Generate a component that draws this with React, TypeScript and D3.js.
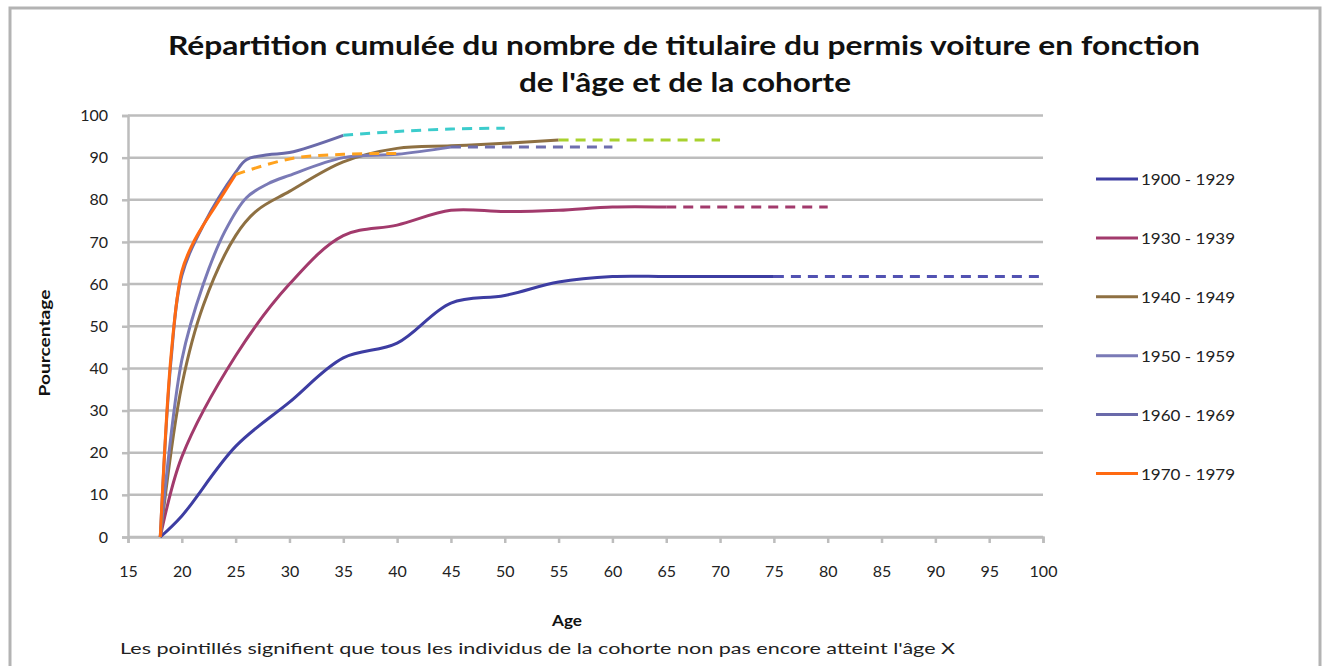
import React, { useEffect, useRef } from "react";
import * as d3 from "d3";

type Pt = [number, number];

const cohortLabels = ["1900 - 1929", "1930 - 1939", "1940 - 1949", "1950 - 1959", "1960 - 1969", "1970 - 1979"];
const lineColors = ["#3d3da2", "#a23a6c", "#8e7042", "#7a7ab6", "#6a6aaa", "#ff6a12"];
const dashColors = ["#5252b2", "#a23a6c", "#a8d12e", "#6e6eae", "#3ccccc", "#ffa21e"];

// solid = every individual of the cohort reached that age
const solid1900: Pt[] = [[18, 0], [20, 5], [25, 21.5], [30, 32], [35, 42.5], [40, 46], [45, 55.5], [50, 57.3], [55, 60.5], [60, 61.8], [65, 61.8], [70, 61.8], [75, 61.8]];
const solid1930: Pt[] = [[18, 0], [20, 19], [25, 43], [30, 60], [35, 71.5], [40, 74], [45, 77.5], [50, 77.2], [55, 77.5], [60, 78.3], [65, 78.3]];
const solid1940: Pt[] = [[18, 0], [20, 36], [22, 55], [25, 71.5], [27, 77.5], [30, 82], [35, 89], [40, 92.2], [45, 92.8], [50, 93.4], [55, 94.2]];
const solid1950: Pt[] = [[18, 0], [20, 42], [22, 60], [24, 72.5], [26, 80.5], [28, 83.8], [30, 85.8], [35, 90], [40, 90.8], [45, 92.5]];
const solid1960: Pt[] = [[18, 0], [19, 42], [20, 62], [22, 74], [25, 86.5], [26, 89.5], [28, 90.7], [30, 91.2], [35, 95.3]];
const solid1970: Pt[] = [[18, 0], [19, 43], [20, 63], [21, 69.5], [22, 74], [23, 78], [24, 82], [25, 86]];

// dashed = not every individual reached that age yet
const dashed1900: Pt[] = [[75, 61.8], [100, 61.8]];
const dashed1930: Pt[] = [[65, 78.3], [80, 78.3]];
const dashed1940: Pt[] = [[55, 94.2], [70, 94.2]];
const dashed1950: Pt[] = [[45, 92.5], [60, 92.5]];
const dashed1960: Pt[] = [[35, 95.3], [40, 96.2], [45, 96.8], [50, 97]];
const dashed1970: Pt[] = [[25, 86], [30, 89.7], [35, 90.8], [40, 91]];

const xTicks = [15, 20, 25, 30, 35, 40, 45, 50, 55, 60, 65, 70, 75, 80, 85, 90, 95, 100];
const yTicks = [0, 10, 20, 30, 40, 50, 60, 70, 80, 90, 100];

const solidSeries = [solid1900, solid1930, solid1940, solid1950, solid1960, solid1970];
const dashedSeries = [dashed1900, dashed1930, dashed1940, dashed1950, dashed1960, dashed1970];

const W = 1327;
const H = 666;
const FONT = "Lato, 'Open Sans', sans-serif";

const App = () => {
  const ref = useRef<SVGSVGElement>(null);

  useEffect(() => {
    const svg = d3.select(ref.current);
    svg.selectAll("*").remove();

    const x = d3.scaleLinear().domain([15, 100]).range([128, 1043]);
    const y = d3.scaleLinear().domain([0, 100]).range([537, 115.5]);

    // outer frame
    svg.append("rect")
      .attr("x", 10).attr("y", 8).attr("width", 1310).attr("height", 700)
      .attr("fill", "#fff").attr("stroke", "#b3b3b3").attr("stroke-width", 3);

    // title
    const title = svg.append("g").attr("font-family", FONT).attr("font-weight", "bold")
      .attr("font-size", 27).attr("fill", "#111");
    title.append("text").attr("x", 168).attr("y", 55)
      .attr("textLength", 1032).attr("lengthAdjust", "spacingAndGlyphs")
      .text("Répartition cumulée du nombre de titulaire du permis voiture en fonction");
    title.append("text").attr("x", 519).attr("y", 92)
      .attr("textLength", 332).attr("lengthAdjust", "spacingAndGlyphs")
      .text("de l'âge et de la cohorte");

    // grid
    svg.append("g").selectAll("line").data(yTicks).join("line")
      .attr("x1", x(15)).attr("x2", x(100))
      .attr("y1", (d) => y(d)).attr("y2", (d) => y(d))
      .attr("stroke", "#bdbdbd").attr("stroke-width", 2.5);

    // y axis
    const yAxis = svg.append("g").attr("transform", `translate(${x(15)},0)`)
      .call(d3.axisLeft(y).tickValues(yTicks).tickSize(6).tickFormat(d3.format("d")));
    yAxis.select(".domain").attr("stroke", "#bdbdbd").attr("stroke-width", 2.5);
    yAxis.selectAll(".tick line").attr("stroke", "#bdbdbd").attr("stroke-width", 2.5);
    yAxis.selectAll(".tick text").attr("x", -20).attr("font-family", FONT)
      .attr("font-size", 16).attr("fill", "#222");

    // x axis
    const xAxis = svg.append("g").attr("transform", `translate(0,${y(0)})`)
      .call(d3.axisBottom(x).tickValues(xTicks).tickSize(6).tickFormat(d3.format("d")));
    xAxis.select(".domain").attr("stroke", "#bdbdbd").attr("stroke-width", 2.5);
    xAxis.selectAll(".tick line").attr("stroke", "#bdbdbd").attr("stroke-width", 2.5);
    xAxis.selectAll(".tick text").attr("y", 29).attr("font-family", FONT)
      .attr("font-size", 16).attr("fill", "#222");

    // axis titles
    svg.append("text").attr("x", 567).attr("y", 626).attr("text-anchor", "middle")
      .attr("font-family", FONT).attr("font-weight", "bold").attr("font-size", 16)
      .attr("textLength", 30).attr("lengthAdjust", "spacingAndGlyphs")
      .attr("fill", "#111").text("Age");
    svg.append("text").attr("transform", "translate(50,343) rotate(-90)")
      .attr("text-anchor", "middle").attr("font-family", FONT).attr("font-weight", "bold")
      .attr("font-size", 16).attr("textLength", 107).attr("lengthAdjust", "spacingAndGlyphs")
      .attr("fill", "#111").text("Pourcentage");

    const line = d3.line<Pt>()
      .x((d) => x(d[0])).y((d) => y(d[1]))
      .curve(d3.curveCatmullRom.alpha(0.5));

    svg.append("g").selectAll("path").data(solidSeries).join("path")
      .attr("d", (d) => line(d))
      .attr("fill", "none")
      .attr("stroke", (_, i) => lineColors[i])
      .attr("stroke-width", 3)
      .attr("stroke-linejoin", "round");

    svg.append("g").selectAll("path").data(dashedSeries).join("path")
      .attr("d", (d) => line(d))
      .attr("fill", "none")
      .attr("stroke", (_, i) => dashColors[i])
      .attr("stroke-width", 3)
      .attr("stroke-dasharray", "10,7");

    // legend
    const leg = svg.append("g").selectAll("g").data(cohortLabels).join("g")
      .attr("transform", (_, i) => `translate(1096,${179 + i * 58.9})`);
    leg.append("line").attr("x1", 0).attr("x2", 42)
      .attr("stroke", (_, i) => lineColors[i]).attr("stroke-width", 3);
    leg.append("text").attr("x", 45).attr("y", 6).attr("font-family", FONT)
      .attr("font-size", 16).attr("fill", "#222")
      .attr("textLength", 94).attr("lengthAdjust", "spacingAndGlyphs")
      .text((d) => d);

    // note
    svg.append("text").attr("x", 120).attr("y", 654).attr("font-family", FONT)
      .attr("font-size", 16).attr("fill", "#222")
      .attr("textLength", 835).attr("lengthAdjust", "spacingAndGlyphs")
      .text("Les pointillés signifient que tous les individus de la cohorte non pas encore atteint l'âge X");
  }, []);

  return (
    <svg
      ref={ref}
      width={W}
      height={H}
      style={{ position: "absolute", left: 0, top: 0, background: "#fff" }}
    />
  );
};

export default App;
